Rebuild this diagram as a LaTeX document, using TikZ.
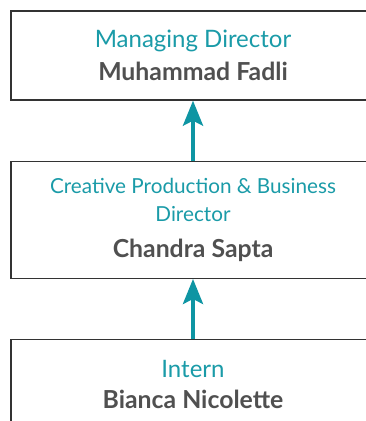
\documentclass[tikz,border=0pt]{standalone}
\usepackage{fontspec}
\setmainfont{Lato}
\usepackage{xcolor}
\usepackage{tikz}
\usetikzlibrary{positioning, arrows.meta}
\definecolor{roleteal}{HTML}{1A9BA8}
\definecolor{arrowteal}{HTML}{0E95A3}
\definecolor{namegray}{HTML}{505050}
\definecolor{boxline}{HTML}{333333}
\tikzstyle{post} = [rectangle, minimum width=364pt, minimum height=89pt, align=center, draw=boxline, line width=1.3pt, fill=white, inner sep=0pt]
\tikzstyle{arrow} = [line width=4pt, draw=arrowteal, -{Stealth[length=25pt, width=20pt, inset=5pt]}]
\newcommand{\rolename}[1]{{\color{roleteal}#1}}
\newcommand{\personname}[1]{{\color{namegray}\bfseries\fontsize{24.8}{33}\selectfont #1}}

\begin{document}
\begin{tikzpicture}[node distance=60pt]
\useasboundingbox (0,0) rectangle (366pt,-421pt);

\node (md) [post, font=\fontsize{24}{33}\selectfont] at (193pt,-55.5pt)
  {\rolename{Managing Director}\\\personname{Muhammad Fadli}};
\node (cp) [post, below=of md, minimum height=117pt, font=\fontsize{20.7}{28}\selectfont]
  {\rolename{Creative Production \& Business}\\\rolename{Director}\\[8pt]%
   \personname{Chandra Sapta}};
\node (in) [post, below=of cp, font=\fontsize{24}{31}\selectfont]
  {\rolename{Intern}\\\personname{Bianca Nicolette}};

\draw [arrow] (cp) -- (md);
\draw [arrow] (in) -- (cp);

\end{tikzpicture}
\end{document}
